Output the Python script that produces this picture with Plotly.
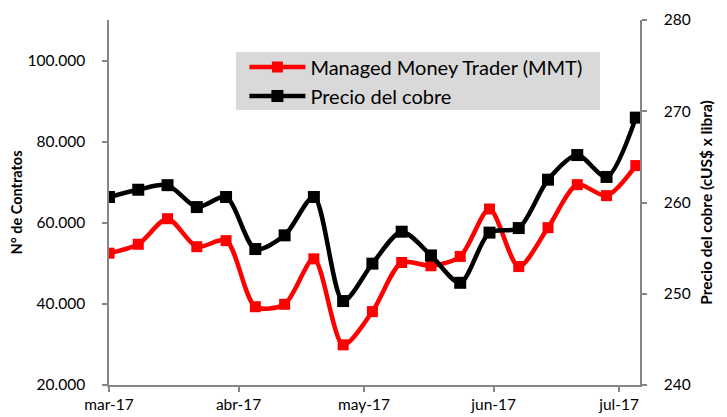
import plotly.graph_objects as go
import pandas as pd

dates = pd.date_range("2017-03-01", periods=19, freq="7D")
mmt = [52500, 54700, 61000, 54100, 55600, 39300, 39900, 51100, 29900, 38100,
       50200, 49400, 51700, 63400, 49200, 58800, 69400, 66700, 74100]
cobre = [260.6, 261.4, 261.9, 259.5, 260.6, 254.9, 256.4, 260.6, 249.2, 253.3,
         256.8, 254.2, 251.2, 256.7, 257.2, 262.5, 265.2, 262.8, 269.3]
tick_dates = ["2017-03-01", "2017-04-01", "2017-05-01", "2017-06-01", "2017-07-01"]
tick_labels = ["mar-17", "abr-17", "may-17", "jun-17", "jul-17"]
left_ticks = [20000, 40000, 60000, 80000, 100000]
left_labels = ["20.000", "40.000", "60.000", "80.000", "100.000"]

FONT = "Lato"
AX = "#868686"

fig = go.Figure()
fig.add_trace(go.Scatter(
    x=dates, y=mmt, name="Managed Money Trader (MMT)", mode="lines+markers",
    line=dict(color="#ff0000", width=4.5, shape="spline", smoothing=0.8),
    marker=dict(symbol="square", size=11, color="#ff0000"), yaxis="y"))
fig.add_trace(go.Scatter(
    x=dates, y=cobre, name="Precio del cobre", mode="lines+markers",
    line=dict(color="#000000", width=4.5, shape="spline", smoothing=0.8),
    marker=dict(symbol="square", size=12, color="#000000"), yaxis="y2"))

# page body has an 8px margin, so the figure is drawn offset by (8, 8)
fig.update_layout(
    width=719, height=409,
    margin=dict(l=101, r=87, t=12, b=32),
    paper_bgcolor="white", plot_bgcolor="white",
    font=dict(family=FONT, color="#000000", size=15.5),
    showlegend=True,
    legend=dict(x=0.255, y=0.925, xanchor="left", yanchor="top",
                bgcolor="rgba(0,0,0,0)", font=dict(size=20, family=FONT),
                itemwidth=56, tracegroupgap=0),
    xaxis=dict(type="date", range=["2017-03-01", "2017-07-06"],
               tickvals=tick_dates, ticktext=tick_labels, automargin=False,
               showgrid=False, showline=True, linecolor=AX, linewidth=1.5,
               ticks="outside", tickcolor=AX, ticklen=5, tickwidth=1.5,
               tickfont=dict(size=15.5), zeroline=False),
    yaxis=dict(range=[20000, 110000], tickvals=left_ticks, ticktext=left_labels,
               automargin=False,
               showgrid=False, showline=True, linecolor=AX, linewidth=1.5,
               ticks="outside", tickcolor=AX, ticklen=5, tickwidth=1.5,
               ticklabelstandoff=14,
               zeroline=False, tickfont=dict(size=15.5),
               title=dict(text="<b>N° de Contratos</b>", font=dict(size=14.5), standoff=4)),
    yaxis2=dict(range=[240, 280], tickvals=[240, 250, 260, 270, 280],
                overlaying="y", side="right", automargin=False,
                showgrid=False, showline=True, linecolor=AX, linewidth=1.5,
                ticks="outside", tickcolor=AX, ticklen=5, tickwidth=1.5,
                ticklabelstandoff=14,
                zeroline=False, tickfont=dict(size=15.5),
                title=dict(text="<b>Precio del cobre (cUS$ x libra)</b>", font=dict(size=15.5), standoff=11)),
    shapes=[dict(type="rect", xref="paper", yref="paper", layer="below",
                 x0=(236-109)/531, x1=(600-109)/531,
                 y0=(385-110)/365, y1=(385-52)/365,
                 fillcolor="#d9d9d9", line=dict(width=0))],
)

fig.write_html("out.html")
